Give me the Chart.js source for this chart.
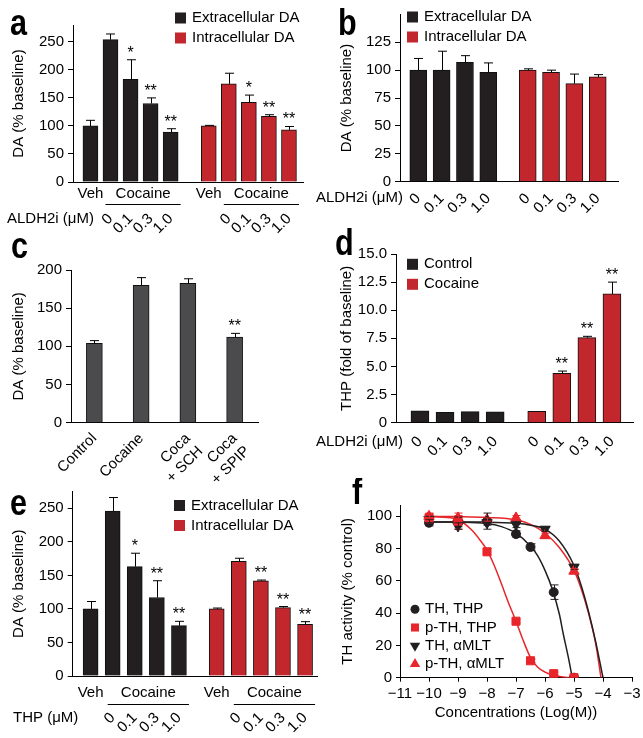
<!DOCTYPE html>
<html>
<head>
<meta charset="utf-8">
<title>DA / THP figure</title>
<script src="https://cdn.jsdelivr.net/npm/chart.js@4.4.1/dist/chart.umd.min.js"></script>
<style>
  html, body { margin: 0; padding: 0; background: #fff; }
  #fig { position: relative; width: 643px; height: 738px; overflow: hidden; }
  #fig canvas { position: absolute; }
</style>
</head>
<body>
<div id="fig">
  <canvas id="panel-a" width="320" height="245" style="left:0;top:0"></canvas>
  <canvas id="panel-b" width="343" height="245" style="left:300px;top:0"></canvas>
  <canvas id="panel-c" width="320" height="270" style="left:0;top:220px"></canvas>
  <canvas id="panel-d" width="343" height="270" style="left:300px;top:220px"></canvas>
  <canvas id="panel-e" width="320" height="260" style="left:0;top:478px"></canvas>
  <canvas id="panel-f" width="343" height="260" style="left:300px;top:478px"></canvas>
</div>
<script>
// ---- data ----
const doseTicks = ['0', '0.1', '0.3', '1.0'];
const vehDoseTicks = ['', '0', '0.1', '0.3', '1.0'];

// a: ALDH2i on cocaine-evoked DA
const aExtra = [100, 254, 183, 140, 89];
const aExtraErr = [10, 10, 35, 10, 6];
const aExtraStars = ['', '', '*', '**', '**'];
const aIntra = [100, 175, 142, 117, 93];
const aIntraErr = [1, 19, 13, 3, 6];
const aIntraStars = ['', '', '*', '**', '**'];

// b: ALDH2i alone
const bExtra = [100, 100, 107, 98];
const bExtraErr = [10.5, 17, 6, 8.5];
const bIntra = [100, 98, 88, 94];
const bIntraErr = [1.2, 2, 8.5, 2];

// c: receptor antagonists
const cLabels = ['Control', 'Cocaine', ['Coca', '+ SCH'], ['Coca', '+ SPIP']];
const cValues = [104, 180, 182.5, 112];
const cErr = [3.5, 10, 6, 5];
const cStars = ['', '', '', '**'];

// d: THP formation
const dControl = [1.05, 0.92, 0.98, 0.97];
const dCocaine = [1.02, 4.39, 7.56, 11.45];
const dCocaineErr = [0, 0.2, 0.12, 1.05];
const dCocaineStars = ['', '**', '**', '**'];

// e: THP on cocaine-evoked DA
const eExtra = [100, 246, 163, 117, 75];
const eExtraErr = [11, 20, 20, 25, 6.5];
const eExtraStars = ['', '', '*', '**', '**'];
const eIntra = [100, 171, 142, 102, 77];
const eIntraErr = [1.3, 4.5, 1, 1.5, 4];
const eIntraStars = ['', '', '**', '**', '**'];

// f: TH inhibition
const thpLogC = [-10, -9, -8, -7, -6.5, -5.7, -5];
const thTHP = [96, 96.5, 97, 89, 81, 53, 0];
const thTHPErr = [2, 3, 5, 2, 2, 4.5, 0];
const pthTHP = [99, 97, 78, 35, 10.5, 2.5, 0];
const pthTHPErr = [3, 5, 2, 1, 1, 1, 0];
const mltLogC = [-10, -9, -8, -7, -6, -5];
const thMLT = [98, 94, 96, 95, 92, 68.5];
const thMLTErr = [2, 2, 1.5, 2, 1.5, 1.5];
const pthMLT = [100, 99, 98, 99, 88, 66];
const pthMLTErr = [1.5, 1.5, 1, 1.5, 1.5, 1.5];

// fitted curves
const fitThTHPx = [-10, -9, -8, -7.5, -7, -6.5, -6.25, -6, -5.75, -5.5, -5.38, -5.2, -5.06];
const fitThTHPy = [96.5, 96.4, 95.6, 93.6, 89.5, 81.5, 75.5, 66.5, 55, 39, 28, 13, 0];
const fitPthTHPx = [-10, -9.5, -9, -8.5, -8.25, -8, -7.75, -7.5, -7.25, -7, -6.75, -6.5, -6.25, -6, -5.75, -5.5, -5.25, -5];
const fitPthTHPy = [99.8, 99.4, 98, 91, 85.5, 79, 69.5, 58, 46, 35, 23, 12.5, 6.5, 3.5, 1.8, 0.8, 0.2, 0];
const fitThMLTx = [-10, -9, -8, -7, -6.5, -6, -5.5, -5, -4.75, -4.5, -4.25, -4];
const fitThMLTy = [96.5, 96.5, 96.4, 95.7, 94.5, 92, 84.5, 69.5, 57, 41, 22, 0];
const fitPthMLTx = [-10, -9, -8, -7, -6.5, -6, -5.5, -5, -4.75, -4.5, -4.25, -4.07];
const fitPthMLTy = [100, 99.8, 99.3, 97.8, 95, 89.5, 80.5, 66.5, 55, 40, 21, 0];

const fTicks = [-11, -10, -9, -8, -7, -6, -5, -4, -3];

// ---- styling ----
const FONT = '"Liberation Sans", Arial, Helvetica, sans-serif';
const INK = '#231f20';
const RED = '#c1272d';
const GREY = '#4b4b4d';
const FRED = '#e8262b';

Chart.defaults.font.family = FONT;
Chart.defaults.font.size = 15;
Chart.defaults.color = '#000';
Chart.defaults.animation = false;
Chart.defaults.plugins.legend.display = false;
Chart.defaults.plugins.tooltip.enabled = false;

function spread(n1, n2, gap) {
  const first = [], second = [];
  for (let i = 0; i < n1; i++) first.push(i);
  for (let i = 0; i < n2; i++) second.push(n1 - 1 + gap + i);
  return [first, second];
}
const xy = (xs, ys) => xs.map((x, i) => ({ x, y: ys[i] }));

// error bars + significance stars, drawn from each dataset's own values
const errorBars = {
  id: 'errorBars',
  afterDatasetsDraw(chart) {
    const ctx = chart.ctx;
    chart.data.datasets.forEach((ds, i) => {
      if (!ds.errors) return;
      const meta = chart.getDatasetMeta(i);
      const ys = chart.scales[meta.yAxisID];
      ctx.save();
      ctx.strokeStyle = ds.errorColor || '#000';
      ctx.fillStyle = '#000';
      ctx.lineWidth = 1;
      ctx.font = '16px ' + FONT;
      ctx.textAlign = 'center';
      ctx.textBaseline = 'alphabetic';
      meta.data.forEach((el, j) => {
        const raw = ds.data[j];
        const v = typeof raw === 'object' ? raw.y : raw;
        const e = ds.errors[j] || 0;
        const x = Math.round(el.x) + 0.5;
        const top = ys.getPixelForValue(v + e);
        const bottom = ds.bothSides ? ys.getPixelForValue(v - e) : el.y;
        const cap = (ds.capWidth || 9) / 2;
        if (e > 0) {
          ctx.beginPath();
          ctx.moveTo(x, bottom); ctx.lineTo(x, top);
          ctx.moveTo(x - cap, top); ctx.lineTo(x + cap, top);
          if (ds.bothSides) { ctx.moveTo(x - cap, bottom); ctx.lineTo(x + cap, bottom); }
          ctx.stroke();
        }
        if (ds.stars && ds.stars[j]) ctx.fillText(ds.stars[j], el.x, top - 2);
      });
      ctx.restore();
    });
  }
};

function extras(draw) {
  return { id: 'extras', afterDraw(chart) { const ctx = chart.ctx; ctx.save(); draw(chart, ctx); ctx.restore(); } };
}

function panelLetter(ctx, letter, x, y) {
  ctx.save();
  ctx.font = 'bold 36px ' + FONT;
  ctx.fillStyle = '#000';
  ctx.textAlign = 'left';
  ctx.textBaseline = 'alphabetic';
  ctx.translate(x, y);
  ctx.scale(0.85, 1);
  ctx.fillText(letter, 0, 0);
  ctx.restore();
}

function boxLegend(chart, ctx, x, y, rowH) {
  ctx.font = '15px ' + FONT;
  ctx.textAlign = 'left';
  ctx.textBaseline = 'middle';
  chart.data.datasets.forEach((ds, i) => {
    const cy = y + i * rowH;
    ctx.fillStyle = ds.backgroundColor;
    ctx.fillRect(x, cy - 5.5, 11, 11);
    ctx.fillStyle = '#000';
    ctx.fillText(ds.label, x + 17, cy);
  });
}

function sideText(ctx, text, x, y, align) {
  ctx.font = '15px ' + FONT;
  ctx.fillStyle = '#000';
  ctx.textAlign = align;
  ctx.textBaseline = 'middle';
  ctx.fillText(text, x, y);
}

function vehCocaine(chart, ctx, groups, textDy, lineDy) {
  const xs = chart.scales.x, base = chart.chartArea.bottom;
  ctx.font = '15px ' + FONT;
  ctx.fillStyle = '#000';
  ctx.strokeStyle = '#000';
  ctx.lineWidth = 1;
  ctx.textAlign = 'center';
  ctx.textBaseline = 'middle';
  groups.forEach(pos => {
    const veh = xs.getPixelForValue(pos[0]);
    const x1 = xs.getPixelForValue(pos[1]) - 5;
    const x2 = xs.getPixelForValue(pos[pos.length - 1]) + 10;
    ctx.fillText('Veh', veh, base + textDy);
    ctx.fillText('Cocaine', (x1 + x2) / 2, base + textDy);
    const ly = Math.round(base + lineDy) + 0.5;
    ctx.beginPath(); ctx.moveTo(x1, ly); ctx.lineTo(x2, ly); ctx.stroke();
  });
}

function bars(label, xs, ys, color, width, more) {
  return Object.assign({
    label,
    data: xs ? xy(xs, ys) : ys,
    backgroundColor: color,
    borderColor: '#111',
    borderWidth: 1,
    grouped: false,
    barThickness: width
  }, more);
}

function yAxis(p) {
  return {
    min: 0, max: p.yMax,
    border: { display: true, color: '#000', width: 1 },
    grid: {
      drawOnChartArea: false, drawTicks: true, tickLength: 5,
      tickColor: c => (p.hideTop && c.tick && c.tick.value === p.yMax) ? 'rgba(0,0,0,0)' : '#000'
    },
    ticks: {
      stepSize: p.yStep, includeBounds: false, padding: 4, color: '#000',
      callback: v => (p.hideTop && v === p.yMax) ? '' : (p.yFmt ? p.yFmt(v) : v)
    },
    title: { display: true, text: p.yTitle, padding: 0, color: '#000', font: { size: 15 } },
    afterFit: s => { s.width = p.yWidth; s.paddingTop = 0; s.paddingBottom = 0; }
  };
}

function barPanel(id, p) {
  const x = {
    type: p.categories ? 'category' : 'linear',
    offset: !!p.categories,
    border: { display: true, color: '#000', width: 1 },
    grid: { drawOnChartArea: false, drawTicks: false, tickLength: 0, offset: false },
    ticks: {
      autoSkip: false, minRotation: 45, maxRotation: 45,
      padding: p.tickPad, labelOffset: p.labelOffset, color: '#000'
    },
    afterFit: s => { s.height = p.xHeight; s.paddingLeft = 0; s.paddingRight = 0; }
  };
  if (!p.categories) {
    x.min = p.xMin;
    x.max = p.xMax;
    x.afterBuildTicks = s => { s.ticks = p.tickPos.map(v => ({ value: v })); };
    x.ticks.callback = (v, i) => p.tickLabels[i];
  }
  return new Chart(document.getElementById(id), {
    type: 'bar',
    data: { labels: p.categories, datasets: p.datasets },
    options: {
      responsive: false,
      events: [],
      layout: { padding: { left: p.padLeft, right: p.padRight, top: p.padTop, bottom: 0 } },
      scales: { x, y: yAxis(p) }
    },
    plugins: [errorBars, extras(p.draw)]
  });
}

// ---- a ----
const [aPos1, aPos2] = spread(5, 5, 1.9);
barPanel('panel-a', {
  datasets: [
    bars('Extracellular DA', aPos1, aExtra, INK, 15, { errors: aExtraErr, stars: aExtraStars }),
    bars('Intracellular DA', aPos2, aIntra, RED, 15, { errors: aIntraErr, stars: aIntraStars })
  ],
  tickPos: [...aPos1, ...aPos2], tickLabels: [...vehDoseTicks, ...vehDoseTicks],
  xMin: -0.87, xMax: aPos2[aPos2.length - 1] + 0.7,
  yMax: 280, yStep: 50, yTitle: 'DA (% baseline)',
  padLeft: 10, yWidth: 63, padRight: 17, padTop: 25, xHeight: 63,
  tickPad: 28, labelOffset: 0,
  draw(chart, ctx) {
    panelLetter(ctx, 'a', 10, 35);
    boxLegend(chart, ctx, 175, 18, 20);
    vehCocaine(chart, ctx, [aPos1, aPos2], 12, 22);
    sideText(ctx, 'ALDH2i (\u03bcM)', 7, 219, 'left');
  }
});

// ---- b ----
const [bPos1, bPos2] = spread(4, 4, 1.69);
barPanel('panel-b', {
  datasets: [
    bars('Extracellular DA', bPos1, bExtra, INK, 17, { errors: bExtraErr }),
    bars('Intracellular DA', bPos2, bIntra, RED, 17, { errors: bIntraErr })
  ],
  tickPos: [...bPos1, ...bPos2], tickLabels: [...doseTicks, ...doseTicks],
  xMin: -0.784, xMax: bPos2[bPos2.length - 1] + 0.87,
  yMax: 150, yStep: 25, hideTop: true, yTitle: 'DA (% baseline)',
  padLeft: 37.7, yWidth: 62.3, padRight: 25, padTop: 14.4, xHeight: 63.3,
  tickPad: 8, labelOffset: 0,
  draw(chart, ctx) {
    panelLetter(ctx, 'b', 38, 35);
    boxLegend(chart, ctx, 107, 17, 20);
    sideText(ctx, 'ALDH2i (\u03bcM)', 103, 198, 'right');
  }
});

// ---- c ----
barPanel('panel-c', {
  categories: cLabels,
  datasets: [bars('DA', null, cValues, GREY, 16, { errors: cErr, stars: cStars })],
  yMax: 200, yStep: 50, yTitle: 'DA (% baseline)',
  padLeft: 10, yWidth: 61, padRight: 62, padTop: 50, xHeight: 67.3,
  tickPad: 7, labelOffset: 0,
  draw(chart, ctx) {
    panelLetter(ctx, 'c', 11, 38);
  }
});

// ---- d ----
const [dPos1, dPos2] = spread(4, 4, 1.66);
barPanel('panel-d', {
  datasets: [
    bars('Control', dPos1, dControl, INK, 18, {}),
    bars('Cocaine', dPos2, dCocaine, RED, 18, { errors: dCocaineErr, stars: dCocaineStars })
  ],
  tickPos: [...dPos1, ...dPos2], tickLabels: [...doseTicks, ...doseTicks],
  xMin: -0.956, xMax: dPos2[dPos2.length - 1] + 0.84,
  yMax: 15, yStep: 2.5, yFmt: v => (v === 0 ? '0' : v.toFixed(1)), yTitle: 'THP (fold of baseline)',
  padLeft: 38, yWidth: 58, padRight: 10, padTop: 34, xHeight: 67.3,
  tickPad: 10, labelOffset: 0,
  draw(chart, ctx) {
    panelLetter(ctx, 'd', 35, 35);
    boxLegend(chart, ctx, 107, 44.3, 20);
    sideText(ctx, 'ALDH2i (\u03bcM)', 103, 221.7, 'right');
  }
});

// ---- e ----
const [ePos1, ePos2] = spread(5, 5, 1.71);
barPanel('panel-e', {
  datasets: [
    bars('Extracellular DA', ePos1, eExtra, INK, 15, { errors: eExtraErr, stars: eExtraStars }),
    bars('Intracellular DA', ePos2, eIntra, RED, 15, { errors: eIntraErr, stars: eIntraStars })
  ],
  tickPos: [...ePos1, ...ePos2], tickLabels: [...vehDoseTicks, ...vehDoseTicks],
  xMin: -0.81, xMax: ePos2[ePos2.length - 1] + 0.54,
  yMax: 275, yStep: 50, yTitle: 'DA (% baseline)',
  padLeft: 10, yWidth: 62.7, padRight: 3, padTop: 13.5, xHeight: 62,
  tickPad: 33, labelOffset: 0,
  draw(chart, ctx) {
    panelLetter(ctx, 'e', 10, 37);
    boxLegend(chart, ctx, 174, 27.5, 20);
    vehCocaine(chart, ctx, [ePos1, ePos2], 17, 27.5);
    sideText(ctx, 'THP (\u03bcM)', 13, 239.5, 'left');
  }
});

// ---- f ----
function markers(label, xs, ys, errs, color, style, rotation, radius, order) {
  return {
    type: 'scatter', label, data: xy(xs, ys), order,
    errors: errs, bothSides: true, capWidth: 8, errorColor: color,
    pointStyle: style, pointRotation: rotation, pointRadius: radius,
    backgroundColor: color, borderColor: color, borderWidth: 1, showLine: false
  };
}
function fitLine(xs, ys, color) {
  return {
    type: 'line', data: xy(xs, ys), borderColor: color, borderWidth: 1.5, order: 5,
    pointRadius: 0, fill: false, cubicInterpolationMode: 'monotone'
  };
}
function drawMarker(ctx, ds, x, y) {
  const r = ds.pointRadius, rot = (ds.pointRotation || 0) * Math.PI / 180;
  ctx.fillStyle = ds.backgroundColor;
  ctx.beginPath();
  if (ds.pointStyle === 'circle') {
    ctx.arc(x, y, r, 0, Math.PI * 2);
  } else if (ds.pointStyle === 'rect') {
    const s = r * Math.SQRT1_2;
    ctx.rect(x - s, y - s, 2 * s, 2 * s);
  } else {
    for (let k = 0; k < 3; k++) {
      const a = rot + k * 2 * Math.PI / 3;
      const px = x + Math.sin(a) * r, py = y - Math.cos(a) * r;
      if (k === 0) ctx.moveTo(px, py); else ctx.lineTo(px, py);
    }
    ctx.closePath();
  }
  ctx.fill();
}

const fMarkers = [
  markers('TH, THP', thpLogC, thTHP, thTHPErr, INK, 'circle', 0, 4.5, 2),
  markers('p-TH, THP', thpLogC, pthTHP, pthTHPErr, FRED, 'rect', 0, 5.7, 1),
  markers('TH, \u03b1MLT', mltLogC, thMLT, thMLTErr, INK, 'triangle', 180, 6, 4),
  markers('p-TH, \u03b1MLT', mltLogC, pthMLT, pthMLTErr, FRED, 'triangle', 0, 6, 3)
];

new Chart(document.getElementById('panel-f'), {
  type: 'scatter',
  data: {
    datasets: [
      ...fMarkers,
      fitLine(fitThTHPx, fitThTHPy, INK),
      fitLine(fitPthTHPx, fitPthTHPy, FRED),
      fitLine(fitThMLTx, fitThMLTy, INK),
      fitLine(fitPthMLTx, fitPthMLTy, FRED)
    ]
  },
  options: {
    responsive: false,
    events: [],
    layout: { padding: { left: 38.5, right: 11, top: 27, bottom: 15.7 } },
    scales: {
      x: {
        type: 'linear', min: -11, max: -3,
        border: { display: true, color: '#000', width: 1 },
        grid: { drawOnChartArea: false, drawTicks: true, tickLength: 4, tickColor: '#000' },
        afterBuildTicks: s => { s.ticks = fTicks.map(v => ({ value: v })); },
        ticks: { padding: 3, maxRotation: 0, color: '#000', callback: v => '\u2212' + Math.abs(v) },
        title: { display: true, text: 'Concentrations (Log(M))', padding: 0, color: '#000', font: { size: 15 } },
        afterFit: s => { s.height = 44.6; s.paddingLeft = 0; s.paddingRight = 0; }
      },
      y: {
        min: 0, max: 107,
        border: { display: true, color: '#000', width: 1 },
        grid: { drawOnChartArea: false, drawTicks: true, tickLength: 4, tickColor: '#000' },
        ticks: { stepSize: 10, includeBounds: false, padding: 4, color: '#000' },
        title: { display: true, text: 'TH activity (% control)', padding: 0, color: '#000', font: { size: 15 } },
        afterFit: s => { s.width = 61.5; s.paddingTop = 0; s.paddingBottom = 0; }
      }
    }
  },
  plugins: [errorBars, extras((chart, ctx) => {
    panelLetter(ctx, 'f', 52, 26);
    ctx.font = '15px ' + FONT;
    ctx.textAlign = 'left';
    ctx.textBaseline = 'middle';
    fMarkers.forEach((ds, i) => {
      const cy = 131.3 + i * 18.2;
      drawMarker(ctx, ds, 115, cy);
      ctx.fillStyle = '#000';
      ctx.fillText(ds.label, 125, cy);
    });
  })]
});
</script>
</body>
</html>
